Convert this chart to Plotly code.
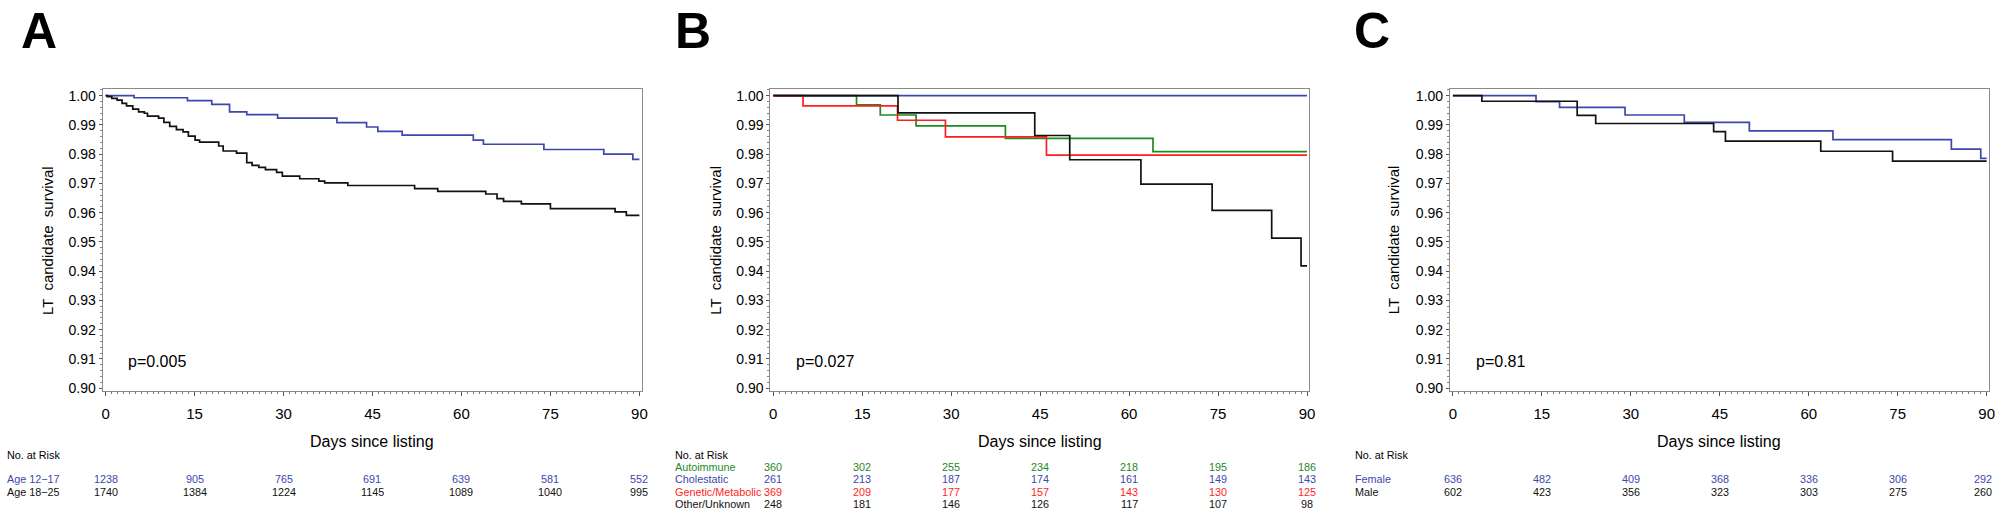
import plotly.graph_objects as go

# ---------------- data ----------------
risk_days = [0, 15, 30, 45, 60, 75, 90]

# Panel A
a_young_days = [0, 4.8, 13.8, 17.9, 20.9, 23.8, 29.0, 39.0, 44.0, 45.9, 50.0, 62.0, 63.7, 73.9, 84.0, 88.9, 90]
a_young_surv = [1.0, 0.9993, 0.9983, 0.9970, 0.9945, 0.9935, 0.9923, 0.9908, 0.9893, 0.9878, 0.9865, 0.9848, 0.9834, 0.9816, 0.9800, 0.9782, 0.9782]
a_old_days = [0, 0.3, 1.05, 1.95, 2.78, 3.53, 4.58, 5.56, 6.53, 7.06, 8.93, 9.83, 10.81, 11.94, 13.06, 13.96,
              15.09, 15.84, 19.07, 19.82, 22.07, 23.8, 24.7, 25.83, 26.95, 28.83, 29.8, 32.73, 35.96, 36.94,
              40.84, 52.1, 56.0, 64.1, 66.0, 67.1, 70.1, 75.0, 85.9, 87.8, 90]
a_old_surv = [1.0, 0.9997, 0.9991, 0.9985, 0.9974, 0.9965, 0.9954, 0.9945, 0.9940, 0.9930, 0.9923, 0.9909, 0.9895,
              0.9884, 0.9876, 0.9862, 0.9848, 0.9841, 0.9828, 0.9811, 0.9804, 0.9771, 0.9762, 0.9755, 0.9747,
              0.9738, 0.9725, 0.9716, 0.9708, 0.9702, 0.9693, 0.9682, 0.9673, 0.9664, 0.9648, 0.9639, 0.9630,
              0.9614, 0.9603, 0.9591, 0.9591]
a_labels = ["Age 12\u221217", "Age 18\u221225"]
a_risk = [[1238, 905, 765, 691, 639, 581, 552],
          [1740, 1384, 1224, 1145, 1089, 1040, 995]]
a_p = "p=0.005"

# Panel B
b_auto_days = [0, 14.04, 18.04, 24.08, 39.14, 64.03, 90]
b_auto_surv = [1.0, 0.9969, 0.9934, 0.9897, 0.9854, 0.9809, 0.9809]
b_chol_days = [0, 90]
b_chol_surv = [1.0, 1.0]
b_gen_days = [0, 5.02, 20.95, 29.03, 46.06, 90]
b_gen_surv = [1.0, 0.9965, 0.9916, 0.9859, 0.9797, 0.9797]
b_oth_days = [0, 21.03, 44.09, 49.99, 61.99, 74.0, 84.04, 88.99, 90]
b_oth_surv = [1.0, 0.9941, 0.9864, 0.9781, 0.9698, 0.9608, 0.9513, 0.9418, 0.9418]
b_labels = ["Autoimmune", "Cholestatic", "Genetic/Metabolic", "Other/Unknown"]
b_risk = [[360, 302, 255, 234, 218, 195, 186],
          [261, 213, 187, 174, 161, 149, 143],
          [369, 209, 177, 157, 143, 130, 125],
          [248, 181, 146, 126, 117, 107, 98]]
b_p = "p=0.027"

# Panel C
c_fem_days = [0, 14.02, 17.99, 29.03, 39.02, 49.99, 64.08, 84.05, 89.01, 90]
c_fem_surv = [1.0, 0.9980, 0.9960, 0.9934, 0.9909, 0.9880, 0.9850, 0.9817, 0.9786, 0.9786]
c_male_days = [0, 4.89, 20.96, 24.08, 43.97, 45.96, 62.03, 74.14, 90]
c_male_surv = [1.0, 0.9981, 0.9933, 0.9905, 0.9877, 0.9845, 0.9810, 0.9776, 0.9776]
c_labels = ["Female", "Male"]
c_risk = [[636, 482, 409, 368, 336, 306, 292],
          [602, 423, 356, 323, 303, 275, 260]]
c_p = "p=0.81"

y_ticks = [0.90, 0.91, 0.92, 0.93, 0.94, 0.95, 0.96, 0.97, 0.98, 0.99, 1.00]
x_ticks = [0, 15, 30, 45, 60, 75, 90]

# ---------------- style ----------------
BLUE = "#3D47AE"
GREEN = "#1E8A1E"
RED = "#FF1E1E"
BLACK = "#111111"
FONT = "Liberation Sans"
TFS = 10.8  # risk-table font size

W, H = 2001, 516
ROWS = [459, 471.5, 484, 496.5, 509]
panels = [
    dict(name="A", frame=(102, 643), table_x=4.5, letter_x=38,
         curves=[(a_young_days, a_young_surv, BLUE), (a_old_days, a_old_surv, BLACK)],
         labels=a_labels, risk=a_risk, colors=[BLUE, BLACK], rows=ROWS[2:4], p=a_p, ytitle_x=46),
    dict(name="B", frame=(772, 1313), table_x=674, letter_x=694,
         curves=[(b_auto_days, b_auto_surv, GREEN), (b_chol_days, b_chol_surv, BLUE),
                 (b_gen_days, b_gen_surv, RED), (b_oth_days, b_oth_surv, BLACK)],
         labels=b_labels, risk=b_risk, colors=[GREEN, BLUE, RED, BLACK], rows=ROWS[1:5],
         p=b_p, ytitle_x=717),
    dict(name="C", frame=(1454, 1995), table_x=1357, letter_x=1376,
         curves=[(c_fem_days, c_fem_surv, BLUE), (c_male_days, c_male_surv, BLACK)],
         labels=c_labels, risk=c_risk, colors=[BLUE, BLACK], rows=ROWS[2:4], p=c_p, ytitle_x=1397),
]

def py(pix):
    return 1 - pix / H

fig = go.Figure()
annotations = []
layout_axes = {}
y_dom = [py(395), py(89)]

for i, p in enumerate(panels):
    n = "" if i == 0 else str(i + 1)
    xa, ya = "x" + n, "y" + n
    for days, surv, col in p["curves"]:
        fig.add_trace(go.Scatter(x=days, y=surv, mode="lines", line=dict(color=col, width=1.7, shape="hv"),
                                 xaxis=xa, yaxis=ya, showlegend=False, hoverinfo="skip"))
    x0, x1 = p["frame"]
    layout_axes["xaxis" + n] = dict(
        domain=[x0 / W, x1 / W], range=[-0.5, 90.4], anchor=ya, tickvals=x_ticks,
        showline=True, mirror=True, linecolor="#8a8a8a", linewidth=1, showgrid=False, zeroline=False,
        ticks="outside", ticklen=4, tickcolor="#555", ticklabelstandoff=5,
        tickfont=dict(family=FONT, size=15, color="#000"),
        minor=dict(dtick=1, ticks="outside", ticklen=2, tickcolor="#777"))
    layout_axes["yaxis" + n] = dict(
        domain=y_dom, range=[0.8989, 1.0023], anchor=xa, tickvals=y_ticks, tickformat=".2f",
        showline=True, mirror=True, linecolor="#8a8a8a", linewidth=1, showgrid=False, zeroline=False,
        ticks="outside", ticklen=3, tickcolor="#555",
        tickfont=dict(family=FONT, size=14, color="#000"),
        minor=dict(dtick=0.002, ticks="outside", ticklen=2, tickcolor="#888"))

    # panel letter
    annotations.append(dict(text="<b>" + p["name"] + "</b>", xref="paper", yref="paper",
                            x=p["letter_x"] / W, y=1.0, xanchor="center", yanchor="top",
                            showarrow=False, font=dict(family=FONT, size=50, color="#000")))
    # y title
    annotations.append(dict(text="LT  candidate  survival", xref="paper", yref="paper", textangle=-90,
                            x=p["ytitle_x"] / W, y=py(242), xanchor="center", yanchor="middle",
                            showarrow=False, font=dict(family=FONT, size=15, color="#000")))
    # x title
    annotations.append(dict(text="Days since listing", xref=xa + " domain", yref="paper",
                            x=0.5, y=py(446), xanchor="center", yanchor="middle",
                            showarrow=False, font=dict(family=FONT, size=16, color="#000")))
    # p value
    annotations.append(dict(text=p["p"], xref=xa, yref=ya, x=3.5, y=0.909, xanchor="left", yanchor="middle",
                            showarrow=False, font=dict(family=FONT, size=16, color="#000")))
    # risk table
    annotations.append(dict(text="No. at Risk", xref="paper", yref="paper", x=p["table_x"] / W, y=py(ROWS[0]),
                            xanchor="left", yanchor="middle", showarrow=False,
                            font=dict(family=FONT, size=TFS, color="#000")))
    for lab, vals, col, row in zip(p["labels"], p["risk"], p["colors"], p["rows"]):
        annotations.append(dict(text=lab, xref="paper", yref="paper", x=p["table_x"] / W, y=py(row),
                                xanchor="left", yanchor="middle", showarrow=False,
                                font=dict(family=FONT, size=TFS, color=col)))
        for k, (d, v) in enumerate(zip(risk_days, vals)):
            ann = dict(text=str(v), xref=xa, yref="paper", x=d, y=py(row),
                       xanchor="center", yanchor="middle", showarrow=False,
                       font=dict(family=FONT, size=TFS, color=col))
            if p["name"] == "C" and k == len(vals) - 1:
                ann.update(xref="paper", x=2000 / W, xanchor="right")
            annotations.append(ann)

fig.update_layout(width=W, height=H, margin=dict(l=0, r=0, t=0, b=0),
                  paper_bgcolor="white", plot_bgcolor="white", showlegend=False,
                  annotations=annotations, **layout_axes)
fig.write_html("out.html", config={"displayModeBar": False},
               post_script="document.body.style.margin='0';document.body.style.overflow='hidden';")
